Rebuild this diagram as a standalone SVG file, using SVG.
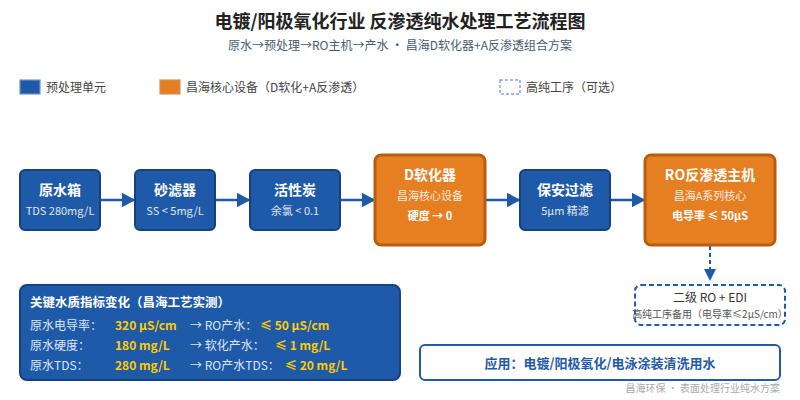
<svg xmlns="http://www.w3.org/2000/svg" width="800" height="400" viewBox="0 0 800 400">
<style>
text{font-family:"Noto Sans CJK SC","Noto Sans",sans-serif;}
.b{fill:#1f5aa8;stroke:#164080;stroke-width:2}
.o{fill:#e67e22;stroke:#b85c10;stroke-width:3}
.w{fill:#fff;text-anchor:middle}
.t{font-size:14px;font-weight:700}
.s{font-size:11px;opacity:.85}
.k{font-size:12px;fill:#dce6f5}
.y{font-size:12px;font-weight:700;fill:#ffcc00}
.l{font-size:12px;fill:#444}
.c{stroke:#1f5aa8;stroke-width:2.5;fill:none}
</style>
<defs>
<marker id="a" markerUnits="userSpaceOnUse" markerWidth="15" markerHeight="16" refX="13.5" refY="7.5" orient="auto"><path d="M0,0 L14,7.5 L0,15 Z" fill="#1f5aa8"/></marker>
<marker id="d" markerUnits="userSpaceOnUse" markerWidth="13" markerHeight="13" refX="12" refY="6" orient="auto"><path d="M0,0 L12,6 L0,12 Z" fill="#1f5aa8"/></marker>
</defs>
<text x="400" y="28" text-anchor="middle" font-size="18" font-weight="700" fill="#222">电镀/阳极氧化行业 反渗透纯水处理工艺流程图</text>
<text x="400" y="50" text-anchor="middle" font-size="12" fill="#4a5a70">原水→预处理→RO主机→产水 · 昌海D软化器+A反渗透组合方案</text>
<g id="legend">
<rect x="20" y="80" width="20" height="14" fill="#1f5aa8" stroke="#6f93c4" stroke-width="1.2"/><text x="46" y="92" class="l">预处理单元</text>
<rect x="160" y="80" width="20" height="14" fill="#e67e22" stroke="#d0925a" stroke-width="1.2"/><text x="186" y="92" class="l">昌海核心设备（D软化+A反渗透）</text>
<rect x="500" y="80" width="20" height="14" fill="none" stroke="#1f5aa8" stroke-width="1.5" stroke-dasharray="3 2" opacity=".55"/><text x="526" y="92" class="l">高纯工序（可选）</text>
</g>
<g id="connectors">
<path class="c" d="M101 200H135" marker-end="url(#a)"/>
<path class="c" d="M216 200H250" marker-end="url(#a)"/>
<path class="c" d="M341 200H375" marker-end="url(#a)"/>
<path class="c" d="M486 200H520" marker-end="url(#a)"/>
<path class="c" d="M611 200H645" marker-end="url(#a)"/>
<path class="c" style="stroke-width:2" d="M710 246V281" stroke-dasharray="4 3" marker-end="url(#d)"/>
</g>
<g id="n1"><rect x="20" y="170" width="80" height="60" rx="5" class="b"/><text x="60" y="195" class="w t">原水箱</text><text x="60" y="215" class="w s">TDS 280mg/L</text></g>
<g id="n2"><rect x="135" y="170" width="80" height="60" rx="5" class="b"/><text x="175" y="195" class="w t">砂滤器</text><text x="175" y="215" class="w s">SS &lt; 5mg/L</text></g>
<g id="n3"><rect x="250" y="170" width="90" height="60" rx="5" class="b"/><text x="295" y="195" class="w t">活性炭</text><text x="295" y="215" class="w s">余氯 &lt; 0.1</text></g>
<g id="n4"><rect x="375" y="155" width="110" height="90" rx="6" class="o"/><text x="430" y="180" class="w t">D软化器</text><text x="430" y="200" class="w s">昌海核心设备</text><text x="430" y="220" class="w" font-size="11" font-weight="700">硬度 → 0</text></g>
<g id="n5"><rect x="520" y="170" width="90" height="60" rx="5" class="b"/><text x="565" y="195" class="w t">保安过滤</text><text x="565" y="215" class="w s">5μm 精滤</text></g>
<g id="n6"><rect x="645" y="155" width="130" height="90" rx="6" class="o"/><text x="710" y="180" class="w t">RO反渗透主机</text><text x="710" y="200" class="w s">昌海A系列核心</text><text x="710" y="220" class="w" font-size="11" font-weight="700">电导率 ≤ 50μS</text></g>
<g id="n7"><rect x="635" y="285" width="150" height="40" rx="6" fill="none" stroke="#1f5aa8" stroke-width="2" stroke-dasharray="5 3"/><text x="710" y="302" text-anchor="middle" font-size="12" fill="#333">二级 RO + EDI</text><text x="710" y="318" text-anchor="middle" font-size="10" fill="#555">高纯工序备用（电导率≤2μS/cm）</text></g>
<g id="panel"><rect x="20" y="285" width="380" height="95" rx="7" class="b"/>
<text x="30" y="307" font-size="12.5" font-weight="700" fill="#fff">关键水质指标变化（昌海工艺实测）</text>
<text x="30" y="330" class="k">原水电导率：</text><text x="115" y="330" class="y">320 μS/cm</text><text x="190" y="330" class="k">→ RO产水：</text><text x="260" y="330" class="y">≤ 50 μS/cm</text>
<text x="30" y="350" class="k">原水硬度：</text><text x="115" y="350" class="y">180 mg/L</text><text x="190" y="350" class="k">→ 软化产水：</text><text x="275" y="350" class="y">≤ 1 mg/L</text>
<text x="30" y="370" class="k">原水TDS：</text><text x="115" y="370" class="y">280 mg/L</text><text x="190" y="370" class="k">→ RO产水TDS：</text><text x="285" y="370" class="y">≤ 20 mg/L</text></g>
<g id="app"><rect x="420" y="345" width="360" height="35" rx="5" fill="#fff" stroke="#1f5aa8" stroke-width="2"/><text x="600" y="368" text-anchor="middle" font-size="13" font-weight="700" fill="#1f5aa8">应用：电镀/阳极氧化/电泳涂装清洗用水</text></g>
<text x="780" y="392" text-anchor="end" font-size="10" fill="#aaa">昌海环保 · 表面处理行业纯水方案</text>
</svg>
